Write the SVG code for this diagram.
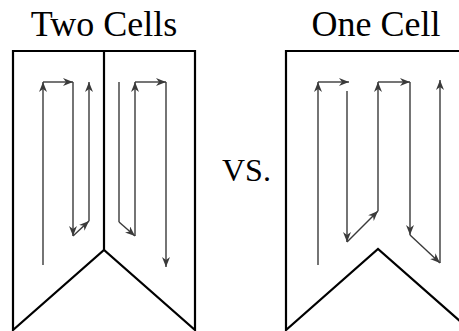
<svg xmlns="http://www.w3.org/2000/svg" width="459" height="331" viewBox="0 0 459 331">
  <style>
    .wall { fill: none; stroke: #000; stroke-width: 2.2; stroke-linejoin: miter; }
    .flow { fill: none; stroke: #3a3a3a; stroke-width: 1.4; }
    .arr { marker-end: url(#head); }
    .title { font-family: "Liberation Serif", "Times New Roman", serif; font-size: 36px; fill: #000; text-anchor: middle; }
    .vs { font-family: "Liberation Serif", "Times New Roman", serif; font-size: 32px; fill: #000; }
  </style>
  <defs>
    <marker id="head" markerUnits="userSpaceOnUse" markerWidth="12" markerHeight="9" refX="10" refY="4" orient="auto">
      <path d="M0,0 L10,4 L0,8 L3,4 z" fill="#3a3a3a"/>
    </marker>
  </defs>

  <rect width="459" height="331" fill="#fff"/>

  <!-- titles -->
  <text class="title" x="104" y="36">Two Cells</text>
  <text class="title" x="376" y="36">One Cell</text>
  <text class="vs" x="222" y="181">VS.</text>

  <!-- two-cell container with centre divider -->
  <g id="two-cells">
    <path class="wall" d="M13,330 V51 H195 V330 L104,250 Z"/>
    <line class="wall" x1="104" y1="51" x2="104" y2="250"/>
  </g>

  <!-- single-cell container -->
  <g id="one-cell">
    <path class="wall" d="M286,330 V51 H470 V330 L378,249 Z"/>
  </g>

  <!-- flow paths -->
  <g id="connectors">
    <!-- left cell, left half -->
    <line class="flow arr" x1="43" y1="265" x2="43" y2="82"/>
    <line class="flow arr" x1="43" y1="82" x2="73" y2="82"/>
    <line class="flow arr" x1="73" y1="82" x2="73" y2="236"/>
    <line class="flow arr" x1="73" y1="236" x2="89" y2="221"/>
    <line class="flow arr" x1="89" y1="221" x2="89" y2="82"/>
    <!-- left cell, right half -->
    <line class="flow" x1="119" y1="82" x2="119" y2="222"/>
    <line class="flow arr" x1="119" y1="222" x2="135" y2="236"/>
    <line class="flow arr" x1="135" y1="236" x2="135" y2="82"/>
    <line class="flow arr" x1="135" y1="82" x2="166" y2="82"/>
    <line class="flow arr" x1="166" y1="82" x2="166" y2="267"/>
    <!-- single cell -->
    <line class="flow arr" x1="318" y1="265" x2="318" y2="82"/>
    <line class="flow arr" x1="318" y1="82" x2="349" y2="82"/>
    <line class="flow arr" x1="347" y1="91" x2="347" y2="242"/>
    <line class="flow arr" x1="347" y1="242" x2="378" y2="211"/>
    <line class="flow arr" x1="378" y1="211" x2="378" y2="82"/>
    <line class="flow arr" x1="378" y1="82" x2="410" y2="82"/>
    <line class="flow arr" x1="410" y1="82" x2="410" y2="235"/>
    <line class="flow arr" x1="410" y1="235" x2="440" y2="263"/>
    <line class="flow arr" x1="440" y1="263" x2="440" y2="80"/>
  </g>
</svg>
